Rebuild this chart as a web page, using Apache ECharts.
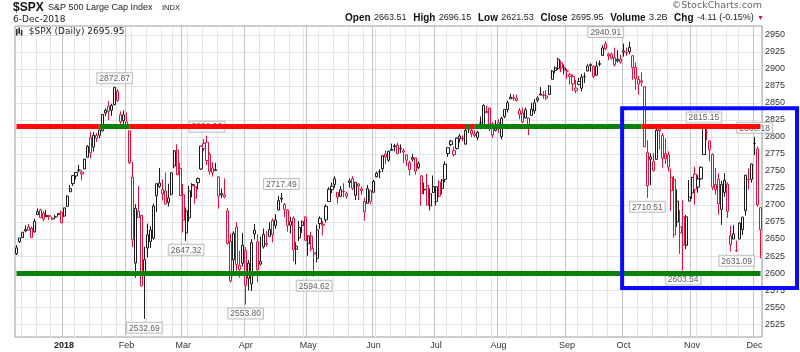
<!DOCTYPE html>
<html><head><meta charset="utf-8">
<script src="https://cdn.jsdelivr.net/npm/echarts@6/dist/echarts.min.js"></script>
<style>html,body{margin:0;padding:0;background:#fff}#c{width:800px;height:352px}</style>
</head><body><div id="c"></div><script>
// rows: [day, open, high, low, close]
const dec17 = [[7,2628.4,2640.99,2626.53,2636.98],[8,2646.21,2651.65,2644.10,2651.50],[11,2652.19,2660.33,2651.47,2659.99],[12,2661.73,2669.72,2659.78,2664.11],[13,2667.59,2671.88,2662.85,2662.85],[14,2665.87,2668.09,2652.01,2652.01],[15,2660.63,2679.63,2659.14,2675.81],[18,2685.92,2694.97,2685.92,2690.16],[19,2692.71,2694.44,2680.74,2681.47],[20,2688.18,2691.01,2676.11,2679.25],[21,2683.02,2692.64,2682.40,2684.57],[22,2684.22,2685.35,2678.13,2683.34],[26,2679.09,2682.74,2677.96,2680.50],[27,2682.10,2685.64,2678.91,2682.62],[28,2686.10,2687.66,2682.69,2687.54],[29,2689.15,2692.12,2673.61,2673.61]];
const jan18 = [[2,2683.73,2695.89,2682.36,2695.81],[3,2697.85,2714.37,2697.77,2713.06],[4,2719.31,2729.29,2719.07,2723.99],[5,2731.33,2743.45,2727.92,2743.15],[8,2742.67,2748.51,2737.60,2747.71],[9,2751.15,2759.14,2747.86,2751.29],[10,2745.55,2750.80,2736.06,2748.23],[11,2752.97,2767.56,2752.78,2767.56],[12,2770.18,2787.85,2769.64,2786.24],[16,2798.96,2807.54,2768.64,2776.42],[17,2784.99,2807.04,2778.38,2802.56],[18,2802.40,2805.83,2792.56,2798.03],[19,2802.60,2810.33,2798.08,2810.30],[22,2809.16,2833.03,2808.12,2832.97],[23,2835.05,2842.24,2830.59,2839.13],[24,2845.42,2852.97,2824.81,2837.54],[25,2846.24,2848.56,2830.94,2839.25],[26,2847.48,2872.87,2846.18,2872.87],[29,2867.23,2870.62,2851.48,2853.53],[30,2832.74,2837.75,2818.27,2822.43],[31,2832.41,2839.26,2813.04,2823.81]];
const feb18 = [[1,2816.45,2835.96,2812.70,2821.98],[2,2808.92,2808.92,2759.97,2762.13],[5,2741.06,2763.39,2638.17,2648.94],[6,2614.78,2701.04,2593.07,2695.14],[7,2690.95,2727.67,2681.33,2681.66],[8,2685.01,2685.27,2580.56,2581.00],[9,2601.78,2638.67,2532.69,2619.55],[12,2636.75,2672.61,2622.45,2656.00],[13,2646.27,2668.84,2637.08,2662.94],[14,2651.21,2702.10,2648.87,2698.63],[15,2713.46,2731.51,2689.82,2731.20],[16,2727.14,2754.42,2725.11,2732.22],[20,2722.99,2737.60,2706.76,2716.26],[21,2720.53,2747.75,2701.29,2701.33],[22,2710.42,2731.26,2697.77,2703.96],[23,2715.80,2747.76,2713.74,2747.30],[26,2757.37,2780.64,2753.78,2779.60],[27,2780.45,2789.15,2744.22,2744.28],[28,2753.78,2761.52,2713.54,2713.83]];
const mar18 = [[1,2715.22,2730.89,2659.65,2677.67],[2,2658.89,2696.25,2647.32,2691.25],[5,2681.06,2728.09,2675.75,2720.94],[6,2730.18,2732.08,2711.26,2728.12],[7,2710.18,2730.60,2701.74,2726.80],[8,2732.75,2740.45,2722.65,2738.97],[9,2752.91,2786.57,2751.54,2786.57],[12,2790.54,2796.98,2779.26,2783.02],[13,2792.31,2801.90,2758.68,2765.31],[14,2774.06,2777.11,2744.38,2749.48],[15,2754.27,2763.03,2741.47,2747.33],[16,2750.57,2761.85,2749.97,2752.01],[19,2741.38,2741.38,2694.59,2712.92],[20,2715.05,2724.22,2710.05,2716.94],[21,2714.99,2739.14,2709.79,2711.93],[22,2691.36,2695.68,2641.59,2643.69],[23,2646.71,2657.67,2585.89,2588.26],[26,2619.35,2661.36,2601.81,2658.55],[27,2667.57,2674.78,2596.12,2612.62],[28,2611.30,2632.65,2593.06,2605.00],[29,2614.41,2659.07,2609.72,2640.87]];
const apr18 = [[2,2633.45,2638.30,2553.80,2581.88],[3,2592.17,2619.14,2574.49,2614.45],[4,2584.04,2649.86,2573.61,2644.69],[5,2657.36,2672.08,2649.58,2662.84],[6,2645.82,2656.88,2586.27,2604.47],[9,2617.18,2653.55,2610.79,2613.16],[10,2638.41,2665.45,2635.78,2656.87],[11,2643.56,2661.43,2639.25,2642.19],[12,2653.83,2674.72,2653.83,2663.99],[13,2676.90,2680.26,2645.05,2656.30],[16,2670.10,2686.49,2665.16,2677.84],[17,2692.74,2713.34,2692.05,2706.39],[18,2710.11,2717.49,2703.63,2708.64],[19,2701.16,2702.84,2681.90,2693.13],[20,2692.56,2693.94,2660.61,2670.14],[23,2675.40,2682.86,2657.99,2670.29],[24,2680.80,2683.55,2617.32,2634.56],[25,2634.92,2645.30,2612.67,2639.40],[26,2651.65,2676.48,2647.16,2666.94],[27,2675.47,2677.35,2659.01,2669.91],[30,2682.51,2682.87,2648.04,2648.05]];
const may18 = [[1,2642.96,2655.27,2625.41,2654.80],[2,2654.24,2660.87,2631.70,2635.67],[3,2628.08,2637.14,2594.62,2629.73],[4,2621.45,2670.93,2615.32,2663.42],[7,2680.34,2683.35,2664.70,2672.63],[8,2670.26,2676.34,2655.20,2671.92],[9,2678.12,2701.27,2674.14,2697.79],[10,2705.02,2726.11,2704.54,2723.07],[11,2722.70,2732.86,2717.45,2727.72],[14,2738.47,2742.10,2725.47,2730.13],[15,2718.59,2718.59,2701.91,2711.45],[16,2712.62,2727.76,2712.17,2722.46],[17,2719.71,2731.96,2711.36,2720.13],[18,2717.35,2719.50,2709.18,2712.97],[21,2735.39,2739.19,2725.70,2733.01],[22,2738.34,2742.24,2721.88,2724.44],[23,2713.98,2733.33,2707.38,2733.29],[24,2730.94,2731.97,2707.38,2727.76],[25,2723.60,2727.36,2714.99,2721.33],[29,2705.11,2710.67,2676.81,2689.86],[30,2702.43,2729.34,2702.43,2724.01],[31,2720.98,2722.50,2700.68,2705.27]];
const jun18 = [[1,2718.70,2736.93,2718.70,2734.62],[4,2741.67,2749.16,2740.54,2746.87],[5,2748.46,2752.61,2739.51,2748.80],[6,2753.25,2772.39,2748.46,2772.35],[7,2774.84,2779.90,2760.16,2770.37],[8,2765.84,2779.39,2763.59,2779.03],[11,2780.18,2790.21,2780.17,2782.00],[12,2785.60,2789.80,2778.78,2786.85],[13,2787.94,2791.47,2774.65,2775.63],[14,2783.21,2789.06,2776.52,2782.49],[15,2777.78,2782.81,2761.73,2779.66],[18,2765.79,2774.99,2757.12,2773.75],[19,2752.01,2765.05,2743.19,2762.59],[20,2769.73,2774.86,2763.91,2767.32],[21,2769.28,2769.28,2744.39,2749.76],[22,2760.79,2764.17,2752.68,2754.88],[25,2742.94,2742.94,2698.67,2717.07],[26,2722.12,2732.91,2715.60,2723.06],[27,2728.45,2746.09,2699.38,2699.63],[28,2698.69,2724.34,2691.99,2716.31],[29,2727.13,2743.26,2718.03,2718.37]];
const jul18 = [[2,2704.95,2727.26,2698.95,2726.71],[3,2733.27,2736.58,2711.16,2713.22],[5,2724.19,2737.83,2716.02,2736.61],[6,2737.68,2764.41,2733.52,2759.82],[9,2775.62,2784.65,2770.73,2784.17],[10,2788.56,2795.58,2786.24,2793.84],[11,2779.82,2785.91,2770.77,2774.02],[12,2783.14,2799.22,2781.53,2798.29],[13,2796.93,2804.53,2791.69,2801.31],[16,2797.36,2802.49,2793.39,2798.43],[17,2789.34,2814.19,2789.24,2809.55],[18,2811.35,2816.76,2805.89,2815.62],[19,2809.37,2812.05,2799.77,2804.49],[20,2804.55,2809.70,2800.01,2801.83],[23,2799.17,2808.61,2795.14,2806.98],[24,2820.68,2829.99,2811.12,2820.40],[25,2817.73,2848.03,2817.73,2846.07],[26,2835.49,2845.57,2835.26,2837.44],[27,2842.35,2843.17,2808.34,2818.82],[30,2819.00,2821.74,2798.11,2802.60],[31,2809.73,2824.46,2808.06,2816.29]];
const aug18 = [[1,2821.17,2825.83,2805.85,2813.36],[2,2800.48,2829.91,2796.34,2827.22],[3,2829.62,2840.38,2827.37,2840.35],[6,2840.29,2853.29,2835.98,2850.40],[7,2855.92,2863.43,2855.92,2858.45],[8,2856.79,2862.44,2853.09,2857.70],[9,2857.19,2862.48,2851.98,2853.58],[10,2838.90,2842.20,2825.81,2833.28],[13,2835.46,2843.40,2819.88,2821.93],[14,2827.88,2843.11,2826.58,2839.96],[15,2827.95,2827.95,2802.49,2818.37],[16,2831.44,2850.49,2831.44,2840.69],[17,2838.32,2855.63,2833.73,2850.13],[20,2853.93,2859.76,2850.62,2857.05],[21,2861.51,2873.23,2861.32,2862.96],[22,2860.99,2867.54,2856.05,2861.82],[23,2860.29,2868.78,2854.03,2856.98],[24,2862.35,2876.16,2862.35,2874.69],[27,2884.69,2898.25,2884.69,2896.74],[28,2901.45,2903.77,2893.50,2897.52],[29,2900.62,2916.50,2898.40,2914.04],[30,2908.94,2912.46,2895.22,2901.13],[31,2898.37,2906.32,2891.73,2901.52]];
const sep18 = [[4,2896.96,2900.18,2885.13,2896.72],[5,2891.59,2894.21,2876.92,2888.60],[6,2888.64,2892.05,2867.29,2878.05],[7,2868.26,2883.81,2864.12,2871.68],[10,2881.39,2886.93,2875.94,2877.13],[11,2871.57,2892.52,2866.78,2887.89],[12,2888.29,2894.65,2879.20,2888.92],[13,2896.85,2906.76,2896.39,2904.18],[14,2906.38,2908.30,2895.77,2904.98],[17,2903.83,2904.65,2886.16,2888.80],[18,2890.74,2911.17,2890.43,2904.31],[19,2906.60,2912.36,2903.82,2907.95],[20,2919.73,2934.80,2919.73,2930.75],[21,2936.76,2940.91,2927.11,2929.67],[24,2921.83,2923.79,2912.63,2919.37],[25,2921.75,2923.95,2913.70,2915.56],[26,2916.98,2931.15,2903.28,2905.97],[27,2911.65,2927.22,2909.27,2914.00],[28,2910.03,2920.53,2907.50,2913.98]];
const oct18 = [[1,2926.29,2937.06,2917.91,2924.59],[2,2923.80,2931.42,2919.37,2923.43],[3,2931.69,2939.86,2921.36,2925.51],[4,2919.35,2919.78,2883.92,2901.61],[5,2902.54,2909.64,2869.29,2885.57],[8,2877.53,2889.45,2862.08,2884.43],[9,2882.51,2894.83,2874.27,2880.34],[10,2873.90,2874.02,2784.86,2785.68],[11,2776.87,2795.14,2710.51,2728.37],[12,2770.54,2775.77,2729.44,2767.13],[15,2763.83,2775.99,2749.03,2750.79],[16,2767.05,2813.46,2766.91,2809.92],[17,2811.67,2816.94,2781.81,2809.21],[18,2802.00,2806.04,2755.18,2768.78],[19,2775.66,2797.77,2760.27,2767.78],[22,2773.94,2778.94,2749.22,2755.88],[23,2721.03,2753.59,2691.43,2740.69],[24,2737.87,2742.59,2651.89,2656.10],[25,2674.88,2722.70,2667.84,2705.57],[26,2667.86,2692.38,2628.16,2658.69],[29,2682.65,2706.85,2603.54,2641.25],[30,2640.68,2685.43,2635.34,2682.63],[31,2705.60,2736.69,2705.60,2711.74]];
const nov18 = [[1,2717.58,2741.67,2708.85,2740.37],[2,2745.45,2756.55,2700.44,2723.06],[5,2726.37,2744.27,2717.94,2738.31],[6,2738.40,2756.82,2737.08,2755.45],[7,2774.13,2815.15,2774.13,2813.89],[8,2806.38,2814.75,2794.99,2806.83],[9,2794.10,2794.10,2764.24,2781.01],[12,2773.93,2775.99,2722.00,2726.22],[13,2730.05,2754.60,2714.98,2722.18],[14,2737.90,2746.80,2685.75,2701.58],[15,2693.52,2735.38,2670.75,2730.20],[16,2718.54,2746.75,2712.16,2736.27],[19,2730.74,2733.16,2681.09,2690.73],[20,2654.60,2669.44,2631.52,2641.89],[21,2657.74,2670.73,2649.82,2649.93],[23,2633.36,2647.55,2631.09,2632.56],[26,2649.97,2674.35,2649.97,2673.45],[27,2663.75,2682.53,2655.89,2682.17],[28,2691.45,2744.00,2684.38,2743.79],[29,2736.97,2753.75,2722.94,2737.80],[30,2737.76,2760.88,2732.76,2760.17]];
const dec18 = [[3,2790.50,2800.18,2773.38,2790.37],[4,2782.43,2785.93,2697.18,2700.06],[6,2663.51,2696.15,2621.53,2695.95]];
const months = [['2017-12',dec17],['2018-01',jan18],['2018-02',feb18],['2018-03',mar18],['2018-04',apr18],['2018-05',may18],['2018-06',jun18],['2018-07',jul18],['2018-08',aug18],['2018-09',sep18],['2018-10',oct18],['2018-11',nov18],['2018-12',dec18]];
const prevCloseBefore = 2629.27;
const monthNames = ['Jan','Feb','Mar','Apr','May','Jun','Jul','Aug','Sep','Oct','Nov','Dec'];
const yTicks = [2525,2550,2575,2600,2625,2650,2675,2700,2725,2750,2775,2800,2825,2850,2875,2900,2925,2950];
const resistance = 2815;
const support = 2599;
// [color, from, to]
const resSegments = [['red','2017-12-07','2018-01-19'],['green','2018-01-19','2018-02-02'],['red','2018-02-02','2018-07-17'],['green','2018-07-17','2018-07-18'],['red','2018-07-18','2018-07-20'],['green','2018-07-20','2018-10-09'],['red','2018-10-09','2018-12-06']];
const highLabels = [['2018-01-26',2872.87],['2018-03-13',2801.90],['2018-04-18',2717.49],['2018-09-21',2940.91],['2018-11-07',2815.15],['2018-12-03',2800.18]];
const lowLabels = [['2018-02-09',2532.69],['2018-03-02',2647.32],['2018-04-02',2553.80],['2018-05-03',2594.62],['2018-10-11',2710.51],['2018-10-29',2603.54],['2018-11-23',2631.09]];
const boxStart = '2018-10-01', boxTop = 2842, boxBottom = 2578;

const RED = '#e0103c', BLK = '#1a1a1a', LRED = '#ff0a0a', LGREEN = '#0a820a';
const dates = [], ohlc = [];
months.forEach(([m, rows]) => rows.forEach(r => {
  dates.push(m + '-' + String(r[0]).padStart(2, '0'));
  ohlc.push([r[1], r[4], r[3], r[2]]);
}));
const candleData = ohlc.map((v, i) => {
  const prev = i > 0 ? ohlc[i - 1][1] : prevCloseBefore;
  const col = v[1] < prev ? RED : BLK;
  return { value: v, itemStyle: { color: '#fff', color0: col, borderColor: col, borderColor0: col } };
});
const weekStart = dates.map((d, i) => {
  if (i === 0) return false;
  return new Date(d + 'T12:00:00Z').getUTCDay() < new Date(dates[i - 1] + 'T12:00:00Z').getUTCDay();
});
const monthStart = dates.map((d, i) => i > 0 && d.slice(0, 7) !== dates[i - 1].slice(0, 7));
const colorOf = { red: LRED, green: LGREEN };
const lineData = resSegments.map(s => [{ coord: [s[1], resistance], lineStyle: { color: colorOf[s[0]] } }, { coord: [s[2], resistance] }]);
lineData.push([{ coord: [dates[0], support], lineStyle: { color: LGREEN } }, { coord: [dates[dates.length - 1], support] }]);

const labelStyle = {
  show: true, fontFamily: 'Liberation Sans, Arial', fontSize: 8.5, color: '#333',
  backgroundColor: '#fff', borderColor: '#b0b0b0', borderWidth: 1, padding: [1, 2, 0, 2],
  formatter: p => p.value[1].toFixed(2)
};

const chart = echarts.init(document.getElementById('c'), null, { renderer: 'canvas' });
chart.setOption({
  animation: false,
  backgroundColor: '#fff',
  textStyle: { fontFamily: 'Liberation Sans, Arial' },
  grid: { left: 15, right: 38, top: 26, bottom: 15, show: true, borderColor: '#9a9a9a', borderWidth: 1, backgroundColor: '#fff' },
  legend: {
    left: 16, top: 27, padding: 0, itemGap: 4, itemWidth: 9, itemHeight: 8,
    icon: 'path://M0,2H2V10H0ZM3,0H5V8H3ZM6,3H8V10H6Z',
    itemStyle: { color: '#333', borderWidth: 0 },
    textStyle: { fontFamily: 'DejaVu Sans', fontSize: 9, color: '#222', padding: [1, 0, 0, 0] },
    data: ['$SPX (Daily) 2695.95'], selectedMode: false
  },
  xAxis: [
    { type: 'category', data: dates, boundaryGap: true,
      axisLine: { show: false }, axisTick: { show: false }, axisLabel: { show: false },
      splitLine: { show: true, interval: i => weekStart[i], lineStyle: { color: '#e4e4e4', width: 1 } } },
    { type: 'category', data: dates, boundaryGap: true, position: 'bottom',
      axisLine: { show: false }, axisTick: { show: false },
      axisLabel: { interval: i => monthStart[i], margin: 4, fontSize: 9, color: '#333',
        formatter: v => { const m = +v.slice(5, 7); return m === 1 ? '{y|' + v.slice(0, 4) + '}' : monthNames[m - 1]; },
        rich: { y: { fontWeight: 'bold', fontSize: 9, color: '#222' } } },
      splitLine: { show: true, interval: i => monthStart[i], lineStyle: { color: '#c4c4c4', width: 1 } } }
  ],
  yAxis: {
    type: 'value', position: 'right', min: 2506, max: 2963, scale: true,
    axisLine: { show: false },
    axisTick: { show: false, customValues: yTicks },
    axisLabel: { customValues: yTicks, fontSize: 9, color: '#333', margin: 3, formatter: v => String(v) },
    splitLine: { show: true, lineStyle: { color: '#e4e4e4' } }
  },
  series: [
    { type: 'candlestick', name: '$SPX (Daily) 2695.95', data: candleData, barWidth: 2.6, z: 2 },
    { type: 'scatter', data: highLabels.map(p => [p[0], p[1]]), symbolSize: 0, z: 3,
      label: Object.assign({}, labelStyle, { position: 'top', distance: 4 }) },
    { type: 'scatter', data: lowLabels.map(p => [p[0], p[1]]), symbolSize: 0, z: 3,
      label: Object.assign({}, labelStyle, { position: 'bottom', distance: 4 }) },
    { type: 'line', data: [], z: 5,
      markLine: { symbol: 'none', silent: true, animation: false, label: { show: false },
        lineStyle: { width: 5, type: 'solid', opacity: 1 }, data: lineData } }
  ]
});

// header texts and the blue highlight box
const band = chart.convertToPixel({ xAxisIndex: 0 }, dates[1]) - chart.convertToPixel({ xAxisIndex: 0 }, dates[0]);
const bx = chart.convertToPixel({ xAxisIndex: 0 }, boxStart) - band / 2;
const by1 = chart.convertToPixel({ yAxisIndex: 0 }, boxTop);
const by2 = chart.convertToPixel({ yAxisIndex: 0 }, boxBottom);
const W = chart.getWidth();
chart.setOption({
  graphic: [
    { type: 'text', x: 13, y: 2, style: { text: '$SPX', font: 'bold 12px Liberation Sans, Arial', fill: '#111' } },
    { type: 'text', x: 48, y: 3, style: { text: 'S&P 500 Large Cap Index', font: '9px Liberation Sans, Arial', fill: '#222' } },
    { type: 'text', x: 162, y: 4, style: { text: 'INDX', font: '7.5px Liberation Sans, Arial', fill: '#222' } },
    { type: 'text', x: 13, y: 15, style: { text: '6-Dec-2018', font: '9px DejaVu Sans', fill: '#222' } },
    { type: 'text', x: 762, y: 1, style: { text: '©StockCharts.com', font: '9.5px DejaVu Sans', fill: '#666', align: 'right' } },
    { type: 'text', x: 764, y: 12, style: {
      text: '{b|Open} {v|2663.51}  {b|High} {v|2696.15}  {b|Low} {v|2621.53}  {b|Close} {v|2695.95}  {b|Volume} {v|3.2B}  {b|Chg} {v|-4.11 (-0.15%)} {r|▼}',
      align: 'right', rich: {
        b: { font: 'bold 10px Liberation Sans, Arial', fill: '#111' },
        v: { font: '9px Liberation Sans, Arial', fill: '#222' },
        r: { font: '7px Liberation Sans, Arial', fill: '#e0103c' } } } },
    { type: 'rect', z: 100, shape: { x: bx, y: by1, width: W - 3 - bx, height: by2 - by1 },
      style: { fill: 'none', stroke: '#0a0aff', lineWidth: 4 } }
  ]
});
</script></body></html>
